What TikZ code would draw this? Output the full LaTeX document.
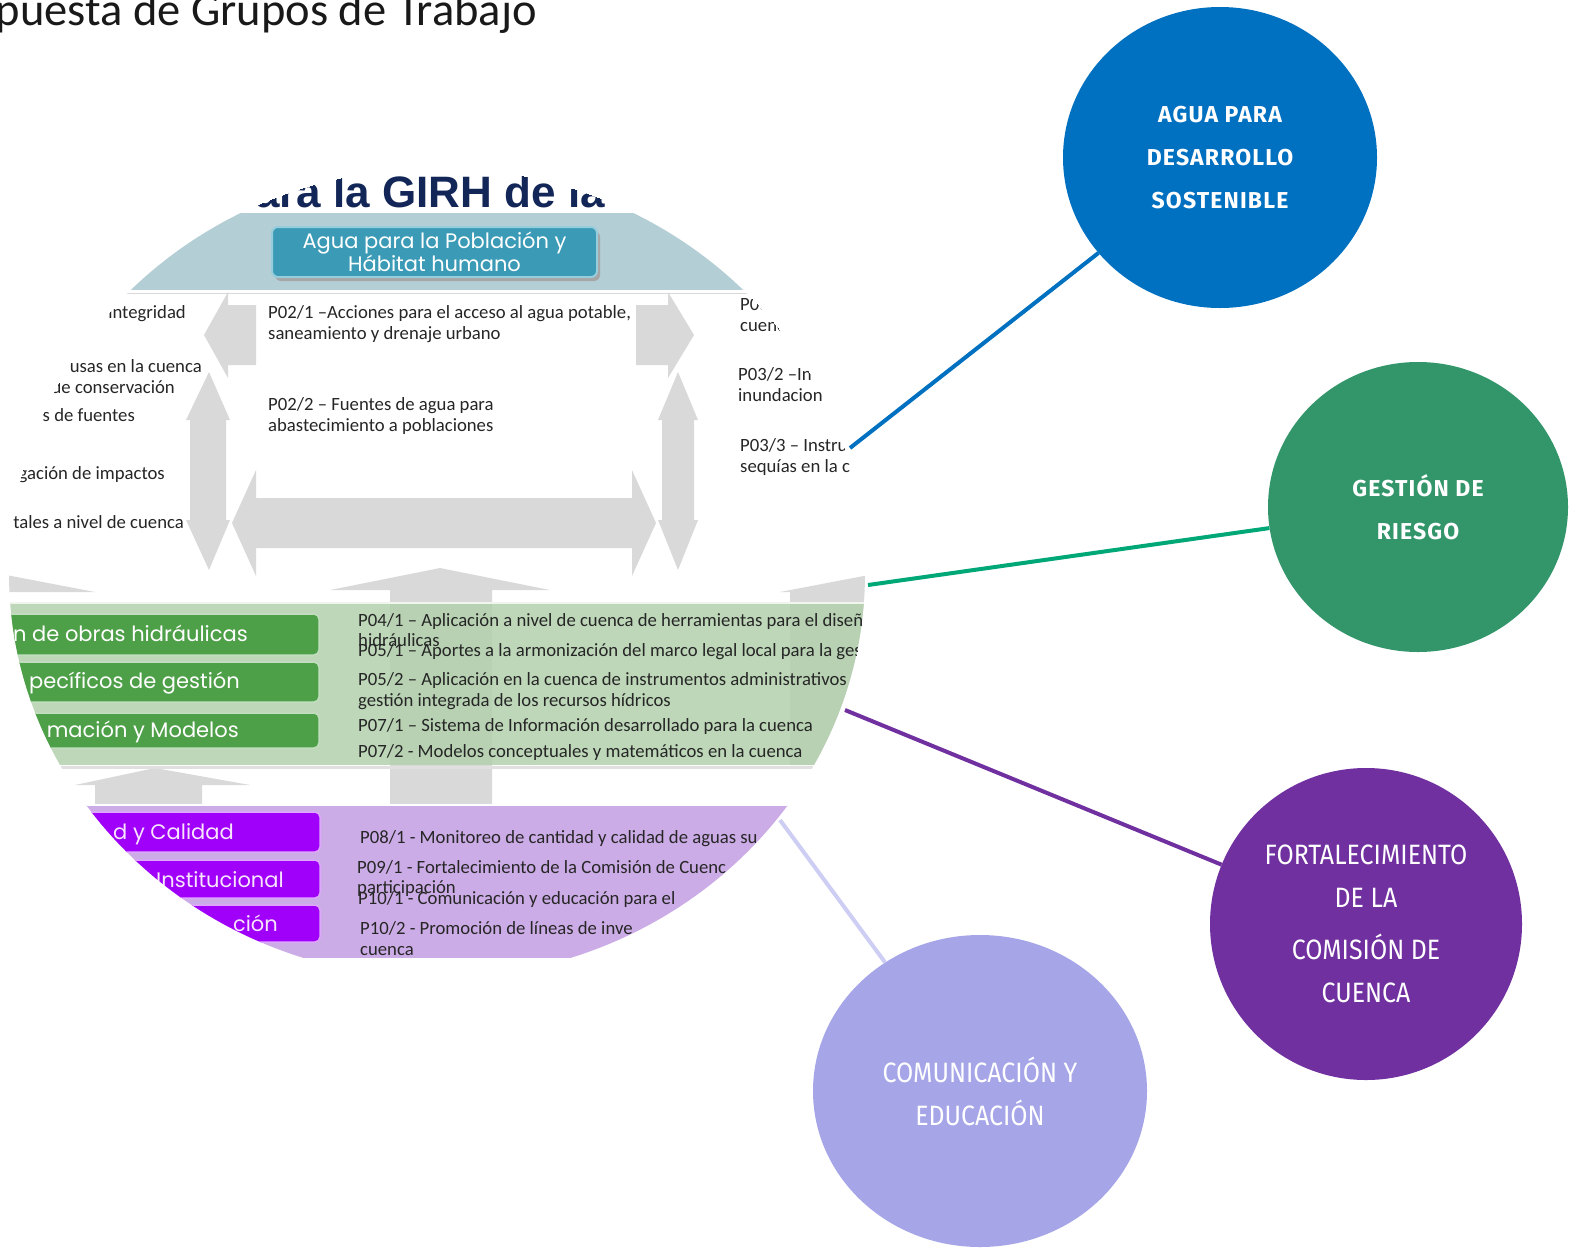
\documentclass[tikz,border=0pt]{standalone}
\usepackage{fontspec}
\setmainfont{Carlito}
\newfontfamily\headfont{Liberation Sans}
\newfontfamily\roundfont{Poppins}
\newfontfamily\circfont[LetterSpace=5]{Fira Sans}
\newfontfamily\condfont[FakeStretch=0.89]{Fira Sans}
\usetikzlibrary{shapes.geometric}
\definecolor{cblue}{RGB}{0,112,192}
\definecolor{cgreen}{RGB}{51,150,107}
\definecolor{lgreen}{RGB}{0,168,120}
\definecolor{cpurple}{RGB}{112,48,160}
\definecolor{clav}{RGB}{165,165,232}
\definecolor{llav}{RGB}{206,206,244}
\definecolor{navy}{RGB}{18,38,88}
\definecolor{bandblue}{RGB}{180,206,214}
\definecolor{hdrteal}{RGB}{59,155,182}
\definecolor{hdrborder}{RGB}{150,205,220}
\definecolor{arrowgray}{RGB}{217,217,217}
\definecolor{greenband}{RGB}{178,208,172}
\definecolor{boxgreen}{RGB}{78,160,72}
\definecolor{purpleband}{RGB}{204,172,230}
\definecolor{boxpurple}{RGB}{160,0,250}
\definecolor{pinktxt}{RGB}{248,228,255}
\tikzset{
  txt/.style={inner sep=0pt, font=\fontsize{18.7}{22}\selectfont, text=black!85},
  gtxt/.style={inner sep=0pt, font=\roundfont\fontsize{21}{23}\selectfont, text=white},
  ptxt/.style={inner sep=0pt, font=\roundfont\fontsize{21}{23}\selectfont, text=pinktxt},
  gbox/.style={rounded corners=5pt, fill=boxgreen, draw=white!65!boxgreen, line width=1.5pt, minimum width=340pt, inner sep=0pt},
  pbox/.style={rounded corners=5pt, fill=boxpurple, draw=white!65!boxpurple, line width=1.5pt, minimum width=340pt, inner sep=0pt},
  boldcirc/.style={ellipse, inner sep=0pt, text=white, align=center, font=\circfont\bfseries\fontsize{23}{43}\selectfont},
  condcirc/.style={ellipse, inner sep=0pt, text=white, align=center, font=\condfont\fontsize{28}{43}\selectfont},
  link/.style={line width=4pt}
}
\begin{document}
\begin{tikzpicture}[x=1pt,y=-1pt]
\useasboundingbox (0,0) rectangle (1589,1251);
\fill[white] (0,0) rectangle (1589,1251);

% page title
\node[anchor=base east, inner sep=0pt, font=\fontsize{46.5}{50}\selectfont, text=black!90] (title) at (537,25) {puesta de Grupos de Trabajo};

% embedded diagram, cut to an oval
\begin{scope}
\clip (437,573) ellipse [x radius=428pt, y radius=405pt];
\clip (0,166) rectangle (880,960);
\node[anchor=base west, inner sep=0pt, font=\headfont\bfseries\fontsize{44}{48}\selectfont, text=navy] (girh) at (255,207) {ara la GIRH de la};
\fill[bandblue] (0,213) rectangle (880,290);
\draw[white, line width=2pt] (0,291) -- (880,291);
\draw[black!15, line width=1pt] (0,293.5) -- (880,293.5);
\fill[black!35, rounded corners=6pt] (275,231) rectangle (600,281);
\node[rounded corners=6pt, fill=hdrteal, draw=hdrborder, line width=2pt, minimum width=325pt, minimum height=50pt, inner sep=0pt, text=white, align=center, font=\roundfont\fontsize{21}{22}\selectfont] (hdr) at (434.5,252) {Agua para la Población y\\Hábitat humano};

% grey arrows
\fill[arrowgray] (256,305) -- (228,305) -- (228,292) -- (204,335) -- (228,378) -- (228,365) -- (256,365) -- cycle;
\fill[arrowgray] (636,305) -- (668,305) -- (668,292) -- (694,335) -- (668,378) -- (668,365) -- (636,365) -- cycle;
\fill[arrowgray] (190,420) -- (186,420) -- (209,372) -- (230,420) -- (226,420) -- (226,520) -- (230,520) -- (209,570) -- (186,520) -- (190,520) -- cycle;
\fill[arrowgray] (662,420) -- (658,420) -- (678,372) -- (698,420) -- (694,420) -- (694,520) -- (698,520) -- (678,570) -- (658,520) -- (662,520) -- cycle;
\fill[arrowgray] (256,498) -- (256,470) -- (232,523) -- (256,576) -- (256,548) -- (632,548) -- (632,576) -- (656,523) -- (632,470) -- (632,498) -- cycle;
\fill[arrowgray] (390,805) -- (390,590) -- (330,590) -- (440,568) -- (550,590) -- (492,590) -- (492,805) -- cycle;
\fill[arrowgray] (-20,570) -- (95,592) -- (-135,592) -- cycle;
\fill[arrowgray] (895,570) -- (1010,592) -- (870,592) -- (870,765) -- (790,765) -- (790,592) -- (780,592) -- cycle;
\fill[arrowgray] (95,805) -- (95,785) -- (75,785) -- (155,768) -- (250,785) -- (202,785) -- (202,805) -- cycle;

% upper texts
\node[txt, anchor=base east] (l1) at (186,318) {integridad};
\node[txt, anchor=base east] (l2) at (202,372) {usas en la cuenca};
\node[txt, anchor=base east] (l3) at (175,393) {de conservación};
\node[txt, anchor=base east] (l4) at (135,421) {s de fuentes};
\node[txt, anchor=base east] (l5) at (165,479) {gación de impactos};
\node[txt, anchor=base east] (l6) at (184,528) {tales a nivel de cuenca};
\node[txt, anchor=base west] (c1) at (268,318) {P02/1 –Acciones para el acceso al agua potable,};
\node[txt, anchor=base west] (c2) at (268,339) {saneamiento y drenaje urbano};
\node[txt, anchor=base west] (c3) at (268,410) {P02/2 – Fuentes de agua para};
\node[txt, anchor=base west] (c4) at (268,431) {abastecimiento a poblaciones};
\node[txt, anchor=base west] (r1) at (740,310) {P03};
\node[txt, anchor=base west] (r2) at (740,331) {cuenc};
\node[txt, anchor=base west] (r3) at (738,380) {P03/2 –In};
\node[txt, anchor=base west] (r4) at (738,401) {inundacion};
\node[txt, anchor=base west] (r5) at (740,451) {P03/3 – Instru};
\node[txt, anchor=base west] (r6) at (740,472) {sequías en la c};

% green band
\fill[greenband, opacity=0.85] (0,603) rectangle (880,765);
\draw[white!80!greenband, line width=1.5pt] (0,603) -- (880,603);
\draw[black!12, line width=3pt] (0,767) -- (880,767);
\node[gbox, minimum height=41pt] (g1) at (149,634.5) {};
\node[gbox, minimum height=40pt] (g2) at (149,682) {};
\node[gbox, minimum height=35pt] (g3) at (149,730.5) {};
\node[gtxt, anchor=base east] (g1t) at (248,641) {n de obras hidráulicas};
\node[gtxt, anchor=base east] (g2t) at (240,688) {pecíficos de gestión};
\node[gtxt, anchor=base east] (g3t) at (239,737) {mación y Modelos};
\node[txt, anchor=base west] (t1) at (358,626) {P04/1 – Aplicación a nivel de cuenca de herramientas para el diseñ};
\node[txt, anchor=base west] (t2) at (358,646) {hidráulicas};
\node[txt, anchor=base west] (t3) at (358,656) {P05/1 – Aportes a la armonización del marco legal local para la ges};
\node[txt, anchor=base west] (t4) at (358,685) {P05/2 – Aplicación en la cuenca de instrumentos administrativos};
\node[txt, anchor=base west] (t5) at (358,706) {gestión integrada de los recursos hídricos};
\node[txt, anchor=base west] (t6) at (358,731) {P07/1 – Sistema de Información desarrollado para la cuenca};
\node[txt, anchor=base west] (t7) at (358,757) {P07/2 - Modelos conceptuales y matemáticos en la cuenca};

% purple band
\fill[purpleband] (0,805) rectangle (880,958);
\draw[white, line width=1.5pt] (0,805) -- (880,805);
\node[pbox, minimum height=40pt] (p1) at (150,832) {};
\node[pbox, minimum height=38pt] (p2) at (150,879) {};
\node[pbox, minimum height=37pt] (p3) at (150,923.5) {};
\node[ptxt, anchor=base east] (p1t) at (234,839) {d y Calidad};
\node[ptxt, anchor=base east] (p2t) at (284,887) {Institucional};
\node[ptxt, anchor=base east] (p3t) at (278,931) {ción};
\node[txt, anchor=base west] (u1) at (360,843) {P08/1 - Monitoreo de cantidad y calidad de aguas su};
\node[txt, anchor=base west] (u2) at (357,873) {P09/1 - Fortalecimiento de la Comisión de Cuenc};
\node[txt, anchor=base west] (u3) at (357,893) {participación};
\node[txt, anchor=base west] (u4) at (358,904) {P10/1 - Comunicación y educación para el};
\node[txt, anchor=base west] (u5) at (360,934) {P10/2 - Promoción de líneas de inve};
\node[txt, anchor=base west] (u6) at (360,955) {cuenca};
\end{scope}

% theme circles
\node[boldcirc, fill=cblue, minimum width=314pt, minimum height=301pt] (agua) at (1220,157.5) {AGUA PARA\\DESARROLLO\\SOSTENIBLE};
\node[boldcirc, fill=cgreen, minimum width=300pt, minimum height=290pt] (riesgo) at (1418,507) {GESTIÓN DE\\RIESGO};
\node[condcirc, fill=cpurple, minimum width=312pt, minimum height=312pt] (comision) at (1366,924) {FORTALECIMIENTO\\DE LA\\[9pt]COMISIÓN DE\\CUENCA};
\node[condcirc, fill=clav, minimum width=334pt, minimum height=312pt] (comunic) at (980,1091) {COMUNICACIÓN Y\\EDUCACIÓN};

% connectors
\coordinate (eA) at (850,448);
\coordinate (eB) at (868,585);
\coordinate (eC) at (845,710);
\coordinate (eD) at (780,820);
\draw[link, cblue] (eA) -- (agua);
\draw[link, lgreen] (eB) -- (riesgo);
\draw[link, cpurple] (eC) -- (comision);
\draw[link, llav] (eD) -- (comunic);
\end{tikzpicture}
\end{document}
